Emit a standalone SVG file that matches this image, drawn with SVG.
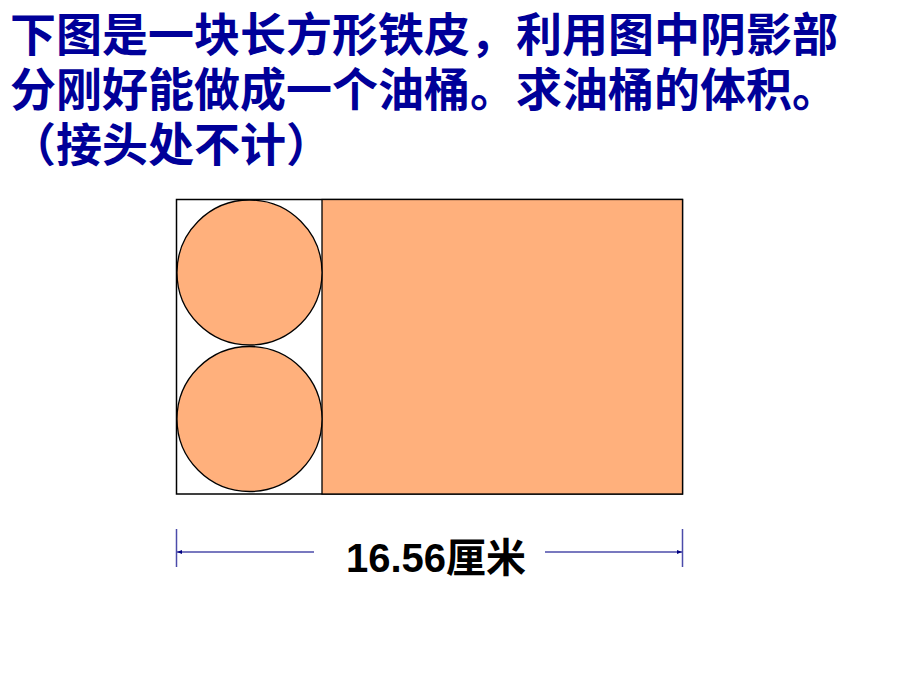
<svg xmlns="http://www.w3.org/2000/svg" width="920" height="690" viewBox="0 0 920 690">
<style>
.title{font-family:"Noto Sans CJK SC","Liberation Sans",sans-serif;font-weight:bold;font-size:46px;fill:#000099}
.dim{font-family:"Liberation Sans","Noto Sans CJK SC",sans-serif;font-weight:bold;font-size:40px;fill:#000}
.shade{fill:#FFB07C;stroke:#000;stroke-width:1.3}
.dline{stroke:#4B4BAA;stroke-width:1.5;fill:none}
</style>
<defs>
<marker id="ah" viewBox="0 0 10 10" refX="10" refY="5" markerWidth="5" markerHeight="5" orient="auto-start-reverse" markerUnits="userSpaceOnUse">
<path d="M0,1 L10,5 L0,9 Z" fill="#000080"/>
</marker>
</defs>
<rect width="920" height="690" fill="#fff"/>
<g id="title">
<text class="title" x="10" y="51">下图是一块长方形铁皮，利用图中阴影部</text>
<text class="title" x="10" y="106">分刚好能做成一个油桶。求油桶的体积。</text>
<text class="title" x="10" y="161">（接头处不计）</text>
</g>
<g id="sheet">
<rect x="176.5" y="199.5" width="506" height="294.5" fill="#fff" stroke="#000" stroke-width="1.5"/>
<rect x="322" y="199.5" width="360.5" height="294.5" class="shade" stroke-width="1.5"/>
</g>
<g id="circle-top">
<circle cx="249.5" cy="272.5" r="72.5" class="shade"/>
</g>
<g id="circle-bottom">
<circle cx="249.5" cy="419" r="72.5" class="shade"/>
</g>
<g id="connectors">
<line x1="176.5" y1="529" x2="176.5" y2="567" class="dline"/>
<line x1="682.5" y1="529" x2="682.5" y2="567" class="dline"/>
<line x1="314" y1="552" x2="177" y2="552" class="dline" marker-end="url(#ah)"/>
<line x1="545" y1="552" x2="682" y2="552" class="dline" marker-end="url(#ah)"/>
</g>
<g id="dimension-label">
<text class="dim" x="346" y="572">16.56厘米</text>
</g>
</svg>
